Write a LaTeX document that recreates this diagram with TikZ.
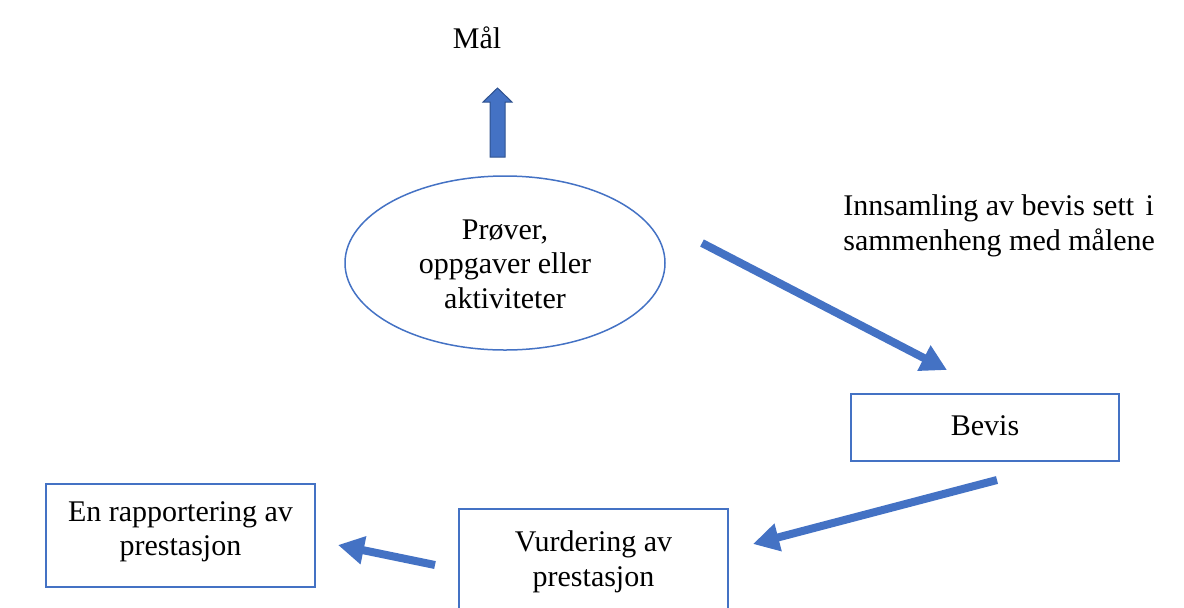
\documentclass[tikz,border=0pt]{standalone}
\usepackage{fontspec}
\setmainfont{Liberation Serif}
\usetikzlibrary{shapes.geometric,arrows.meta}
\definecolor{wblue}{HTML}{4472C4}
\definecolor{wdark}{HTML}{2F528F}
\tikzset{
  lbl/.style={font=\fontsize{15}{17.25}\selectfont, align=center, inner sep=0pt},
  boxnode/.style={draw=wblue, line width=0.75pt, rectangle, inner sep=0pt},
  flow/.style={draw=wblue, line width=4pt, -{Triangle[length=13pt,width=13.5pt]}},
}
\begin{document}
\begin{tikzpicture}[x=0.5pt,y=-0.5pt]
\useasboundingbox (0,0) rectangle (1184,607);
% goal
\node[lbl] (maal) at (477,38) {Mål};
% block arrow up
\filldraw[fill=wblue, draw=wdark, line width=0.5pt]
  (490,157) -- (505,157) -- (505,102) -- (512,102) -- (497.5,88) -- (483,102) -- (490,102) -- cycle;
% ellipse
\node[ellipse, draw=wblue, line width=0.75pt, minimum width=160pt, minimum height=87pt, inner sep=0pt] (prove) at (505,263) {};
\node[lbl] (provetxt) at (505,264) {Prøver,\\oppgaver eller\\aktiviteter};
% collection text
\node[lbl, align=left, anchor=west] (innsamling) at (843,226) {Innsamling av bevis sett\hspace{2pt} i\\sammenheng med målene};
% boxes
\node[boxnode, minimum width=134pt, minimum height=33.5pt] (bevis) at (985,427.5) {};
\node[lbl] (bevistxt) at (985,426) {Bevis};
\node[boxnode, minimum width=134.5pt, minimum height=53.5pt] (vurd) at (593.5,562.5) {};
\node[lbl] (vurdtxt) at (593.5,562) {Vurdering av\\prestasjon};
\node[boxnode, minimum width=134.5pt, minimum height=51.5pt] (rapp) at (180.5,535.5) {};
\node[lbl] (rapptxt) at (180.5,531.5) {En rapportering av\\prestasjon};
% arrow end points
\coordinate (a1s) at (702,243);
\coordinate (a1e) at (947,370);
\coordinate (a2s) at (997,480);
\coordinate (a2e) at (753,544);
\coordinate (a3s) at (435,565);
\coordinate (a3e) at (338,545);
\draw[flow] (a1s) -- (a1e);
\draw[flow] (a2s) -- (a2e);
\draw[flow] (a3s) -- (a3e);
\end{tikzpicture}
\end{document}
